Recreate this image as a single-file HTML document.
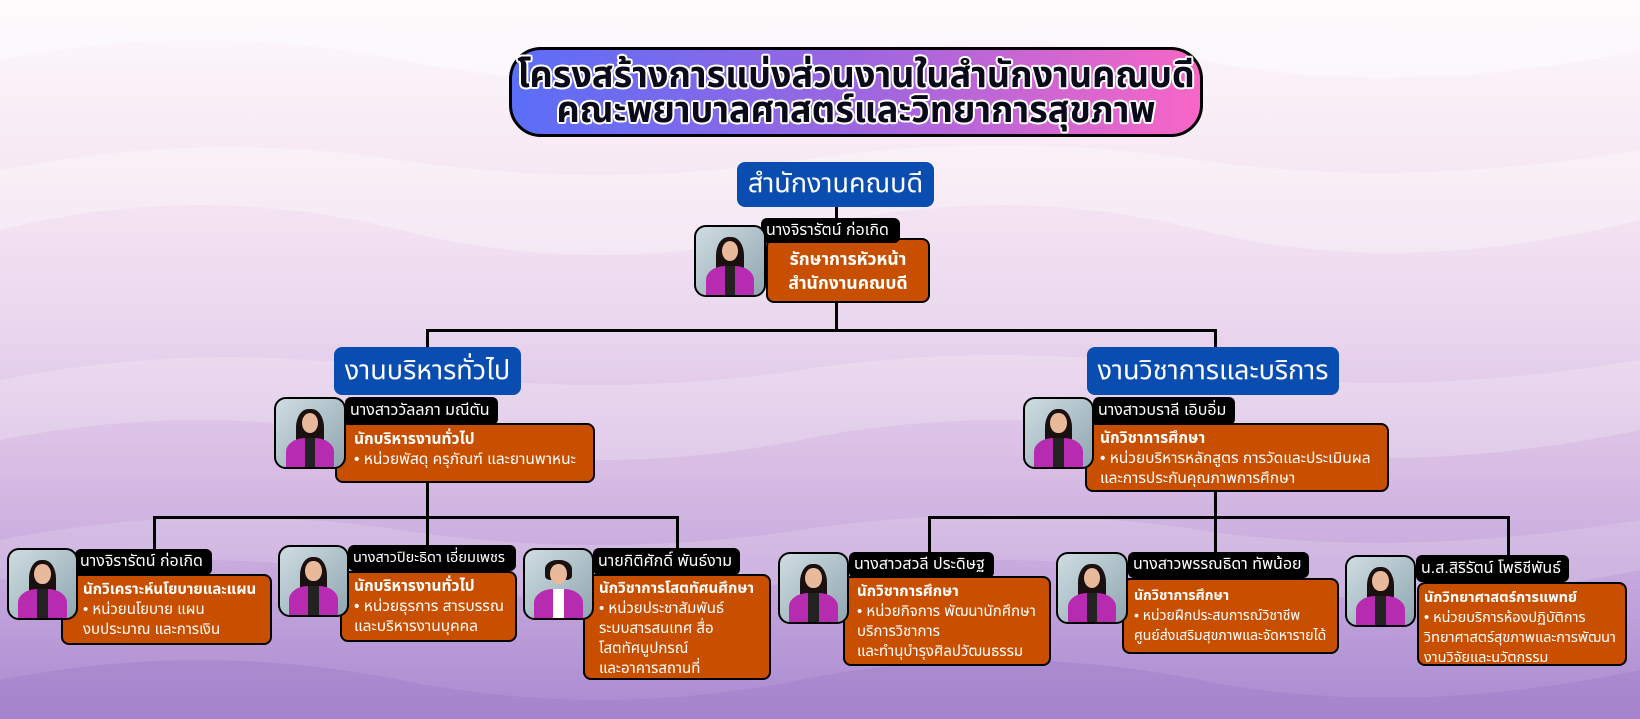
<!DOCTYPE html>
<html><head><meta charset="utf-8">
<style>
*{box-sizing:border-box;margin:0;padding:0}
body{width:1640px;height:719px;overflow:hidden;position:relative;font-family:"Liberation Sans","Noto Sans Thai","Noto Sans",sans-serif;
background:linear-gradient(180deg,#fdf9fc 0%,#f6e7f3 25%,#ead7ee 45%,#d8bde4 65%,#c3a5dc 82%,#a98ad0 100%);}
.abs{position:absolute}
.title{left:509px;top:47px;width:694px;height:90px;border:3px solid #000;border-radius:32px;background:linear-gradient(90deg,#5a6ef7,#9c66e0 50%,#f866c6);
text-align:center;font-weight:bold;font-size:36px;line-height:35px;color:#0a0a1a;padding-top:7px;white-space:nowrap;
text-shadow:2px 0 #fff,-2px 0 #fff,0 2px #fff,0 -2px #fff,1.5px 1.5px #fff,-1.5px -1.5px #fff,1.5px -1.5px #fff,-1.5px 1.5px #fff;}
.dept{background:#0a4db0;color:#fff;border-radius:8px;text-align:center;font-size:27px;display:flex;align-items:center;justify-content:center}
.line{background:#000;position:absolute}
.photo{position:absolute;border:2px solid #000;border-radius:12px;overflow:hidden;background:linear-gradient(135deg,#cfdce2,#8fa6b0);}
.photo .hair{position:absolute;left:30%;top:14%;width:40%;height:60%;background:#1a1010;border-radius:45% 45% 20% 20%}
.photo .face{position:absolute;left:38%;top:20%;width:24%;height:30%;background:#e9b99b;border-radius:50%}
.photo .body{position:absolute;left:14%;top:58%;width:72%;height:50%;background:#b62bb0;border-radius:40% 40% 0 0}
.photo .shirt{position:absolute;left:42%;top:58%;width:16%;height:45%;background:#222}
.name{position:absolute;background:#000;color:#fff;font-size:16px;border-radius:6px;padding:0 5px;display:flex;align-items:center;white-space:nowrap;z-index:3}
.box{position:absolute;background:#c94f00;border:2px solid #000;border-radius:8px;color:#fff;font-size:15.5px;line-height:20px;z-index:2;white-space:nowrap}
.box b{display:block}
.photo{z-index:4}
</style></head><body>
<svg class="abs" style="left:0;top:0" width="1640" height="719">
<path d="M0 60 Q200 20 400 60 T800 60 T1200 60 T1640 50 V0 H0Z" fill="#fff" opacity=".4"/>
<path d="M0 230 Q200 180 400 230 T800 230 T1200 230 T1640 220 V150 Q1400 190 1200 160 T800 160 T400 160 T0 170Z" fill="#fff" opacity=".3"/>
<path d="M0 440 Q200 400 400 440 T800 440 T1200 440 T1640 430 V360 Q1400 400 1200 370 T800 370 T400 370 T0 380Z" fill="#fff" opacity=".2"/>
<path d="M0 580 Q200 540 400 580 T800 580 T1200 580 T1640 570 V520 Q1400 560 1200 530 T800 530 T400 530 T0 540Z" fill="#fff" opacity=".15"/>
<path d="M0 680 Q200 640 400 680 T800 680 T1200 680 T1640 670 V719 H0Z" fill="#9a78c6" opacity=".35"/>
</svg>

<div class="abs title">โครงสร้างการแบ่งส่วนงานในสำนักงานคณบดี<br>คณะพยาบาลศาสตร์และวิทยาการสุขภาพ</div>

<div class="line" style="left:835px;top:205px;width:3px;height:127px"></div>
<div class="line" style="left:426px;top:329px;width:790px;height:3px"></div>
<div class="line" style="left:426px;top:329px;width:3px;height:20px"></div>
<div class="line" style="left:1214px;top:329px;width:3px;height:20px"></div>
<div class="line" style="left:426px;top:480px;width:3px;height:90px"></div>
<div class="line" style="left:153px;top:516px;width:525px;height:3px"></div>
<div class="line" style="left:153px;top:516px;width:3px;height:36px"></div>
<div class="line" style="left:676px;top:516px;width:3px;height:36px"></div>
<div class="line" style="left:1214px;top:490px;width:3px;height:85px"></div>
<div class="line" style="left:928px;top:516px;width:582px;height:3px"></div>
<div class="line" style="left:928px;top:516px;width:3px;height:38px"></div>
<div class="line" style="left:1507px;top:516px;width:3px;height:42px"></div>

<div class="abs dept" style="left:737px;top:162px;width:197px;height:45px">สำนักงานคณบดี</div>
<div class="abs dept" style="left:334px;top:347px;width:187px;height:48px">งานบริหารทั่วไป</div>
<div class="abs dept" style="left:1087px;top:347px;width:252px;height:48px">งานวิชาการและบริการ</div>

<div class="photo" style="left:694px;top:225px;width:72px;height:72px"><div class="hair"></div><div class="face"></div><div class="body"></div><div class="shirt"></div></div>
<div class="name" style="left:761px;top:218px;width:139px;height:25px">นางจิรารัตน์ ก่อเกิด</div>
<div class="box" style="left:766px;top:238px;width:164px;height:65px;text-align:center;padding-top:7px;font-weight:bold;font-size:17.5px;line-height:24px">รักษาการหัวหน้า<br>สำนักงานคณบดี</div>

<div class="photo" style="left:274px;top:397px;width:72px;height:72px"><div class="hair"></div><div class="face"></div><div class="body"></div><div class="shirt"></div></div>
<div class="name" style="left:345px;top:397px;width:153px;height:28px">นางสาววัลลภา มณีตัน</div>
<div class="box" style="left:335px;top:423px;width:260px;height:60px;padding:5px 0 0 17px"><b>นักบริหารงานทั่วไป</b>• หน่วยพัสดุ ครุภัณฑ์ และยานพาหนะ</div>

<div class="photo" style="left:1023px;top:397px;width:71px;height:72px"><div class="hair"></div><div class="face"></div><div class="body"></div><div class="shirt"></div></div>
<div class="name" style="left:1093px;top:397px;width:142px;height:28px">นางสาวบราลี เอิบอิ่ม</div>
<div class="box" style="left:1085px;top:423px;width:304px;height:69px;padding:4px 0 0 13px"><b>นักวิชาการศึกษา</b>• หน่วยบริหารหลักสูตร การวัดและประเมินผล<br>และการประกันคุณภาพการศึกษา</div>

<div class="photo" style="left:7px;top:548px;width:71px;height:72px"><div class="hair"></div><div class="face"></div><div class="body"></div><div class="shirt"></div></div>
<div class="name" style="left:75px;top:549px;width:137px;height:26px">นางจิรารัตน์ ก่อเกิด</div>
<div class="box" style="left:61px;top:574px;width:211px;height:71px;padding:4px 0 0 20px;font-size:15px"><b>นักวิเคราะห์นโยบายและแผน</b>• หน่วยนโยบาย แผน<br>งบประมาณ และการเงิน</div>

<div class="photo" style="left:278px;top:545px;width:71px;height:72px"><div class="hair"></div><div class="face"></div><div class="body"></div><div class="shirt"></div></div>
<div class="name" style="left:348px;top:545px;width:168px;height:26px;font-size:14.5px">นางสาวปิยะธิดา เอี่ยมเพชร</div>
<div class="box" style="left:340px;top:571px;width:177px;height:71px;padding:4px 0 0 12px"><b>นักบริหารงานทั่วไป</b>• หน่วยธุรการ สารบรรณ<br>และบริหารงานบุคคล</div>

<div class="photo" style="left:523px;top:548px;width:71px;height:72px"><div class="hair" style="height:30%"></div><div class="face"></div><div class="body"></div><div class="shirt" style="background:#fff"></div></div>
<div class="name" style="left:593px;top:548px;width:147px;height:27px">นายกิติศักดิ์ พันธ์งาม</div>
<div class="box" style="left:583px;top:574px;width:188px;height:106px;padding:3px 0 0 14px;font-size:15px"><b>นักวิชาการโสตทัศนศึกษา</b>• หน่วยประชาสัมพันธ์<br>ระบบสารสนเทศ สื่อ<br>โสตทัศนูปกรณ์<br>และอาคารสถานที่</div>

<div class="photo" style="left:778px;top:552px;width:71px;height:72px"><div class="hair"></div><div class="face"></div><div class="body"></div><div class="shirt"></div></div>
<div class="name" style="left:849px;top:552px;width:145px;height:26px">นางสาวสวลี ประดิษฐ</div>
<div class="box" style="left:843px;top:576px;width:208px;height:90px;padding:4px 0 0 12px;font-size:15px"><b>นักวิชาการศึกษา</b>• หน่วยกิจการ พัฒนานักศึกษา<br>บริการวิชาการ<br>และทำนุบำรุงศิลปวัฒนธรรม</div>

<div class="photo" style="left:1056px;top:552px;width:72px;height:72px"><div class="hair"></div><div class="face"></div><div class="body"></div><div class="shirt"></div></div>
<div class="name" style="left:1128px;top:552px;width:181px;height:26px">นางสาวพรรณธิดา ทัพน้อย</div>
<div class="box" style="left:1122px;top:578px;width:217px;height:76px;padding:5px 0 0 10px;font-size:14px"><b>นักวิชาการศึกษา</b>• หน่วยฝึกประสบการณ์วิชาชีพ<br>ศูนย์ส่งเสริมสุขภาพและจัดหารายได้</div>

<div class="photo" style="left:1345px;top:555px;width:71px;height:72px"><div class="hair"></div><div class="face"></div><div class="body"></div><div class="shirt"></div></div>
<div class="name" style="left:1416px;top:555px;width:153px;height:27px">น.ส.สิริรัตน์ โพธิชีพันธ์</div>
<div class="box" style="left:1417px;top:582px;width:210px;height:84px;padding:4px 0 0 5px;font-size:14.5px"><b>นักวิทยาศาสตร์การแพทย์</b>• หน่วยบริการห้องปฏิบัติการ<br>วิทยาศาสตร์สุขภาพและการพัฒนา<br>งานวิจัยและนวัตกรรม</div>
</body></html>
